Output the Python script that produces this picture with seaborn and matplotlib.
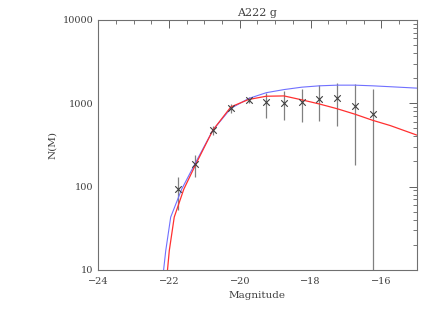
import numpy as np
import pandas as pd
import seaborn as sns
import matplotlib
matplotlib.use("Agg")
import matplotlib.pyplot as plt
from matplotlib.ticker import MultipleLocator, LogLocator, NullFormatter

# dane
mag = [-21.75, -21.25, -20.75, -20.25, -19.75, -19.25, -18.75, -18.25, -17.75, -17.25, -16.75, -16.25]
counts = [93, 186, 475, 871, 1090, 1030, 1000, 1030, 1120, 1150, 920, 740]
err_lo = [52, 130, 415, 760, 1000, 660, 625, 590, 610, 530, 181, 1]
err_hi = [130, 238, 540, 990, 1190, 1320, 1390, 1470, 1640, 1740, 1690, 1470]

blue_mag = [-22.15, -22.09, -21.95, -21.64, -21.27, -20.76, -20.25, -19.75, -19.25, -18.75,
            -18.25, -17.75, -17.25, -16.75, -16.25, -15.75, -15.0]
blue_n = [10, 17, 43, 93, 186, 475, 870, 1140, 1340, 1460, 1560, 1620, 1650, 1650, 1620, 1580, 1520]

red_mag = [-22.04, -21.99, -21.85, -21.58, -21.24, -20.76, -20.25, -19.75, -19.25, -18.75,
           -18.25, -17.75, -17.25, -16.75, -16.25, -15.75, -15.0]
red_n = [10, 17, 43, 93, 186, 475, 905, 1110, 1215, 1225, 1100, 980, 860, 740, 625, 540, 415]

x_ticks = [-24, -22, -20, -18, -16]
y_ticks = [10, 100, 1000, 10000]

sns.set_style("white")
plt.rcParams['font.family'] = ['DejaVu Serif']

fig = plt.figure(figsize=(4.36, 3.12), dpi=100)
ax = fig.add_axes([0.225, 0.135, 0.731, 0.801])

pts = pd.DataFrame({"mag": mag, "n": counts})
ax.vlines(mag, err_lo, err_hi, color="#808080", lw=0.9)
sns.scatterplot(data=pts, x="mag", y="n", marker="x", color="#404040", s=22, linewidth=0.8, ax=ax, zorder=3)
sns.lineplot(x=blue_mag, y=blue_n, color="#7070ff", lw=0.8, ax=ax)
sns.lineplot(x=red_mag, y=red_n, color="#ff3030", lw=0.9, ax=ax)

ax.set_yscale("log")
ax.set_xlim(-24, -15)
ax.set_ylim(10, 10000)
ax.set_xticks(x_ticks, labels=["\u2212" + str(abs(t)) for t in x_ticks])
ax.xaxis.set_minor_locator(MultipleLocator(0.5))
ax.set_yticks(y_ticks, labels=[str(t) for t in y_ticks])
ax.yaxis.set_minor_locator(LogLocator(base=10, subs=np.arange(2, 10)))
ax.yaxis.set_minor_formatter(NullFormatter())

ax.tick_params(which="both", direction="in", top=True, right=True, color="#606060",
               labelsize=7, labelcolor="#404040")
ax.tick_params(which="major", length=6, width=0.7)
ax.tick_params(which="minor", length=3, width=0.6)
ax.tick_params(axis="x", pad=5)
for s in ax.spines.values():
    s.set_color("#707070")
    s.set_linewidth(0.8)

ax.set_title("A222 g", fontsize=8, color="#404040", pad=3)
ax.set_xlabel("Magnitude", fontsize=7.5, color="#404040")
ax.set_ylabel("N(M)", fontsize=7.5, color="#404040")

fig.savefig("out.png", dpi=100)
